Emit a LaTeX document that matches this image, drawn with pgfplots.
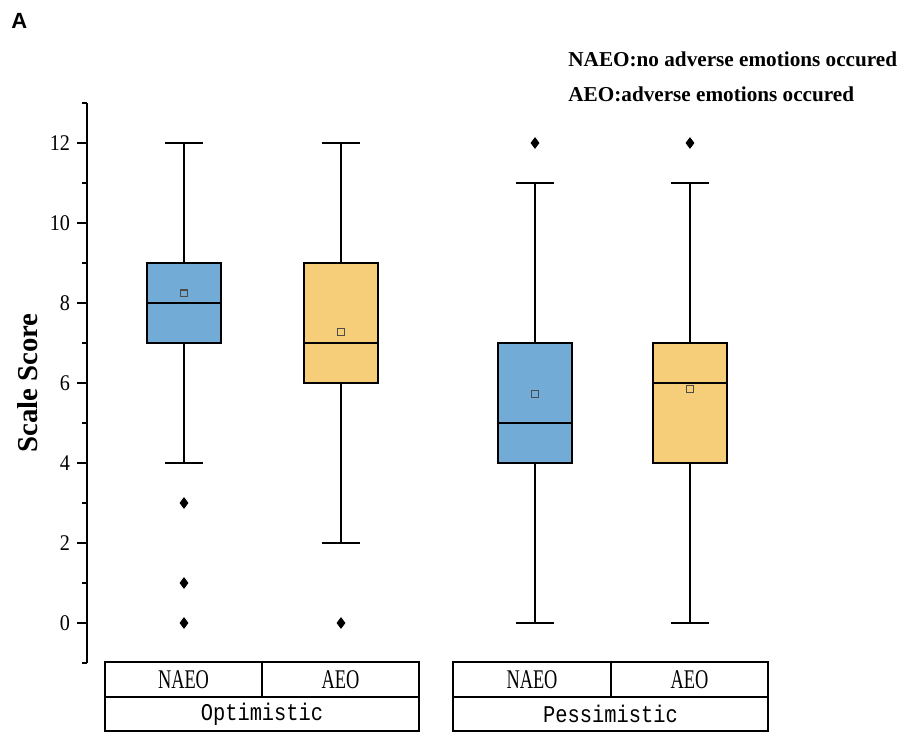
\documentclass[border=0pt]{standalone}
\usepackage{fontspec}
\setmainfont{Liberation Serif}
\usepackage{pgfplots}
\pgfplotsset{compat=1.18}
\usepgfplotslibrary{statistics}
\newfontfamily\condfont[FakeStretch=0.68]{Liberation Serif}
\newfontfamily\mymono[FakeStretch=0.85]{Liberation Mono}
\newfontfamily\sansfam{Liberation Sans}
\newfontfamily\tickfont[FakeStretch=0.9]{Liberation Serif}
\definecolor{boxblue}{RGB}{114,172,214}
\definecolor{boxorange}{RGB}{246,206,122}
\begin{document}
\begin{tikzpicture}
\begin{axis}[
  scale only axis, width=356.5pt, height=280pt,
  xmin=87, xmax=800, ymin=-1, ymax=13,
  axis y line=left, axis x line=none,
  y axis line style={-, line width=1.4pt},
  ytick={0,2,...,12}, minor ytick={-1,1,...,13},
  tick align=outside, major tick length=5pt, minor tick length=2.5pt,
  every tick/.style={line width=1.2pt, black},
  yticklabel style={font=\tickfont\fontsize{11.2}{13}\selectfont},
  /pgf/number format/assume math mode=true,
  boxplot/draw direction=y,
  clip=false,
]
\addplot[boxplot prepared={draw position=184, lower whisker=4, lower quartile=7, median=8, upper quartile=9, upper whisker=12, box extend=74, whisker extend=38}, draw=black, fill=boxblue, line width=1.3pt] coordinates {};
\addplot[boxplot prepared={draw position=341, lower whisker=2, lower quartile=6, median=7, upper quartile=9, upper whisker=12, box extend=74, whisker extend=38}, draw=black, fill=boxorange, line width=1.3pt] coordinates {};
\addplot[boxplot prepared={draw position=535, lower whisker=0, lower quartile=4, median=5, upper quartile=7, upper whisker=11, box extend=74, whisker extend=38}, draw=black, fill=boxblue, line width=1.3pt] coordinates {};
\addplot[boxplot prepared={draw position=690, lower whisker=0, lower quartile=4, median=6, upper quartile=7, upper whisker=11, box extend=74, whisker extend=38}, draw=black, fill=boxorange, line width=1.3pt] coordinates {};
% means
\addplot[only marks, mark=square, mark size=1.7pt, mark options={draw=black!70, line width=0.6pt}] coordinates {(184,8.24) (341,7.28) (535,5.72) (690,5.85)};
% outliers
\addplot[only marks, mark=diamond*, mark size=2.6pt, black] coordinates {(184,3) (184,1) (184,0) (341,0) (535,12) (690,12)};
% category table
\draw[line width=1pt] (axis cs:105,-0.975) rectangle (axis cs:419,-2.7);
\draw[line width=1pt] (axis cs:105,-1.85) -- (axis cs:419,-1.85);
\draw[line width=1pt] (axis cs:262,-0.975) -- (axis cs:262,-1.85);
\draw[line width=1pt] (axis cs:453,-0.975) rectangle (axis cs:768,-2.7);
\draw[line width=1pt] (axis cs:453,-1.85) -- (axis cs:768,-1.85);
\draw[line width=1pt] (axis cs:611,-0.975) -- (axis cs:611,-1.85);
\node[font=\condfont\fontsize{13.5}{15}\selectfont] at (axis cs:183.5,-1.41) {NAEO};
\node[font=\condfont\fontsize{13.5}{15}\selectfont] at (axis cs:340.5,-1.41) {AEO};
\node[font=\condfont\fontsize{13.5}{15}\selectfont] at (axis cs:532,-1.41) {NAEO};
\node[font=\condfont\fontsize{13.5}{15}\selectfont] at (axis cs:689.5,-1.41) {AEO};
\node[font=\mymono\fontsize{12}{14}\selectfont] at (axis cs:262,-2.28) {Optimistic};
\node[font=\mymono\fontsize{12}{14}\selectfont] at (axis cs:610.5,-2.28) {Pessimistic};
% y label
\node[rotate=90, font=\bfseries\fontsize{14.4}{16}\selectfont] at (axis cs:28,6) {Scale Score};
% legend text
\node[anchor=west, font=\bfseries\fontsize{10.6}{12}\selectfont, inner sep=0pt] at (axis cs:568,14.08) {NAEO:no adverse emotions occured};
\node[anchor=west, font=\bfseries\fontsize{10.6}{12}\selectfont, inner sep=0pt] at (axis cs:568,13.21) {AEO:adverse emotions occured};
% panel letter
\node[anchor=west, font=\sansfam\bfseries\fontsize{11}{13}\selectfont, inner sep=0pt] at (axis cs:11,15.06) {A};
% bounding box
\path (axis cs:0,15.575) rectangle (axis cs:900,-2.75);
\end{axis}
\end{tikzpicture}
\end{document}
